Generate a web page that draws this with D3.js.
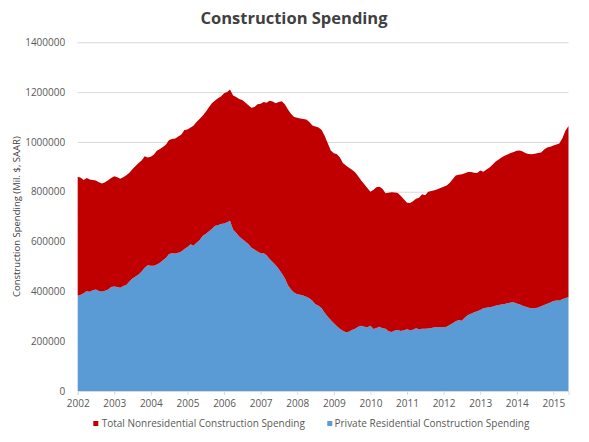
<!DOCTYPE html>
<html>
<head>
<meta charset="utf-8">
<script src="https://cdn.jsdelivr.net/npm/d3@7"></script>
<style>
  html, body { margin: 0; padding: 0; background: #fff; }
  svg { display: block; font-family: "Open Sans", sans-serif; }
</style>
</head>
<body>
<svg id="chart" width="589" height="442"></svg>
<script>
// ---- Data (monthly, Jan 2002 - Jun 2015), millions of $, SAAR ----
const startMonth = "2002-01";
const endMonth = "2015-06";

// Total construction spending (top of red area)
const totalSpending = [
  860000, 856000, 847000, 855000, 849000, 847000, 845000, 838000, 833000, 838000, 846000, 855000,
  862000, 858000, 852000, 858000, 866000, 876000, 890000, 903000, 915000, 925000, 943000, 937000,
  940000, 950000, 965000, 972000, 980000, 990000, 1008000, 1012000, 1014000, 1022000, 1030000, 1048000,
  1050000, 1058000, 1065000, 1080000, 1092000, 1105000, 1120000, 1138000, 1155000, 1165000, 1175000, 1182000,
  1195000, 1200000, 1211000, 1186000, 1180000, 1172000, 1168000, 1158000, 1147000, 1137000, 1140000, 1151000,
  1153000, 1160000, 1157000, 1165000, 1162000, 1155000, 1160000, 1163000, 1150000, 1130000, 1112000, 1100000,
  1097000, 1094000, 1092000, 1090000, 1080000, 1066000, 1062000, 1058000, 1048000, 1025000, 995000, 966000,
  955000, 951000, 938000, 915000, 905000, 896000, 888000, 878000, 862000, 845000, 830000, 815000,
  800000, 808000, 818000, 820000, 812000, 794000, 796000, 798000, 797000, 795000, 783000, 770000,
  756000, 755000, 762000, 772000, 776000, 790000, 786000, 800000, 803000, 806000, 810000, 815000,
  820000, 825000, 835000, 850000, 865000, 868000, 870000, 874000, 879000, 879000, 876000, 875000,
  885000, 880000, 888000, 896000, 907000, 920000, 928000, 937000, 945000, 950000, 956000, 960000,
  965000, 966000, 962000, 955000, 952000, 951000, 953000, 956000, 958000, 970000, 978000, 981000,
  986000, 990000, 994000, 1015000, 1045000, 1064000
];

// Private residential construction spending (blue area)
const privateResidential = [
  382000, 386000, 392000, 401000, 398000, 405000, 408000, 401000, 399000, 402000, 408000, 418000,
  420000, 418000, 415000, 422000, 426000, 440000, 452000, 460000, 468000, 480000, 495000, 505000,
  503000, 503000, 508000, 515000, 525000, 535000, 550000, 553000, 552000, 555000, 560000, 570000,
  578000, 589000, 583000, 595000, 605000, 622000, 630000, 640000, 650000, 662000, 665000, 670000,
  672000, 678000, 684000, 648000, 635000, 620000, 610000, 600000, 590000, 575000, 568000, 560000,
  553000, 553000, 545000, 530000, 518000, 505000, 490000, 472000, 452000, 425000, 408000, 395000,
  388000, 386000, 383000, 378000, 372000, 362000, 348000, 342000, 332000, 314000, 298000, 285000,
  272000, 260000, 250000, 242000, 236000, 238000, 245000, 250000, 258000, 262000, 258000, 256000,
  262000, 249000, 253000, 258000, 252000, 250000, 240000, 237000, 243000, 245000, 241000, 244000,
  248000, 244000, 246000, 252000, 248000, 250000, 250000, 251000, 253000, 256000, 256000, 256000,
  256000, 258000, 265000, 272000, 280000, 285000, 282000, 295000, 305000, 310000, 316000, 320000,
  325000, 332000, 334000, 336000, 338000, 342000, 345000, 347000, 349000, 352000, 355000, 356000,
  351000, 347000, 342000, 338000, 334000, 332000, 332000, 335000, 340000, 345000, 350000, 355000,
  361000, 363000, 363000, 368000, 373000, 376000
];

const seriesNames = ["Total Nonresidential Construction Spending", "Private Residential Construction Spending"];
const seriesColors = ["#C00000", "#5B9BD5"];
const yTicks = [0, 200000, 400000, 600000, 800000, 1000000, 1200000, 1400000];
const xTickYears = [2002, 2003, 2004, 2005, 2006, 2007, 2008, 2009, 2010, 2011, 2012, 2013, 2014, 2015];
const chartTitle = "Construction Spending";
const yAxisTitle = "Construction Spending (Mil. $, SAAR)";

// ---- Build table ----
const parseMonth = d3.timeParse("%Y-%m");
const months = d3.timeMonth.range(parseMonth(startMonth), d3.timeMonth.offset(parseMonth(endMonth), 1));
const table = months.map((m, i) => ({
  date: m,
  residential: privateResidential[i],
  nonresidential: totalSpending[i] - privateResidential[i]
}));

// ---- Layout ----
const svg = d3.select("#chart");
const pLeft = 77.7, pRight = 568.5, pTop = 42.3, pBottom = 391;

const x = d3.scaleTime()
  .domain([parseMonth(startMonth), parseMonth(endMonth)])
  .range([pLeft, pRight]);
const y = d3.scaleLinear().domain([0, 1400000]).range([pBottom, pTop]);

// gridlines
svg.append("g")
  .attr("transform", `translate(${pLeft},0)`)
  .call(d3.axisLeft(y).tickValues(yTicks.slice(1)).tickSize(-(pRight - pLeft)).tickFormat(""))
  .call(g => g.select(".domain").remove())
  .call(g => g.selectAll("line").attr("stroke", "#D9D9D9").attr("stroke-width", 1));

// stacked areas
const stack = d3.stack().keys(["residential", "nonresidential"]);
const layers = stack(table);
const area = d3.area()
  .x(d => x(d.data.date))
  .y0(d => y(d[0]))
  .y1(d => y(d[1]));

svg.append("g").selectAll("path")
  .data(layers)
  .join("path")
  .attr("d", area)
  .attr("fill", (d, i) => i === 0 ? seriesColors[1] : seriesColors[0]);

// x axis
const xAxis = svg.append("g")
  .attr("transform", `translate(0,${pBottom})`)
  .call(d3.axisBottom(x)
    .tickValues(xTickYears.map(yr => new Date(yr, 0, 1)))
    .tickFormat(d3.timeFormat("%Y"))
    .tickSize(4)
    .tickPadding(5));
xAxis.select(".domain").attr("stroke", "#D9D9D9");
xAxis.selectAll(".tick line").attr("stroke", "#D9D9D9");
xAxis.selectAll("text").attr("fill", "#595959").style("font-size", "10px")
  .style("font-family", "'Open Sans', sans-serif");

// y axis labels
const yAxis = svg.append("g")
  .attr("transform", `translate(${pLeft},0)`)
  .call(d3.axisLeft(y).tickValues(yTicks).tickFormat(d3.format("d")).tickSize(0).tickPadding(12.5));
yAxis.select(".domain").remove();
yAxis.selectAll("text").attr("fill", "#595959").style("font-size", "10px")
  .style("font-family", "'Open Sans', sans-serif");

// title
svg.append("text")
  .attr("x", 294).attr("y", 24)
  .attr("text-anchor", "middle")
  .attr("fill", "#404040")
  .style("font-size", "16.5px")
  .style("font-weight", "bold")
  .text(chartTitle);

// y axis title
svg.append("text")
  .attr("transform", `translate(20,${(pTop + pBottom) / 2}) rotate(-90)`)
  .attr("text-anchor", "middle")
  .attr("fill", "#404040")
  .style("font-size", "9.5px")
  .text(yAxisTitle);

// legend
const legendItems = [
  { name: seriesNames[0], color: seriesColors[0], sx: 93.3, tx: 101.7 },
  { name: seriesNames[1], color: seriesColors[1], sx: 327.3, tx: 334.5 }
];
const lg = svg.append("g");
legendItems.forEach(it => {
  lg.append("rect").attr("x", it.sx).attr("y", 421).attr("width", 5).attr("height", 5).attr("fill", it.color);
  lg.append("text").attr("x", it.tx).attr("y", 427)
    .attr("fill", "#595959")
    .style("font-size", "10px")
    .text(it.name);
});
</script>
</body>
</html>
